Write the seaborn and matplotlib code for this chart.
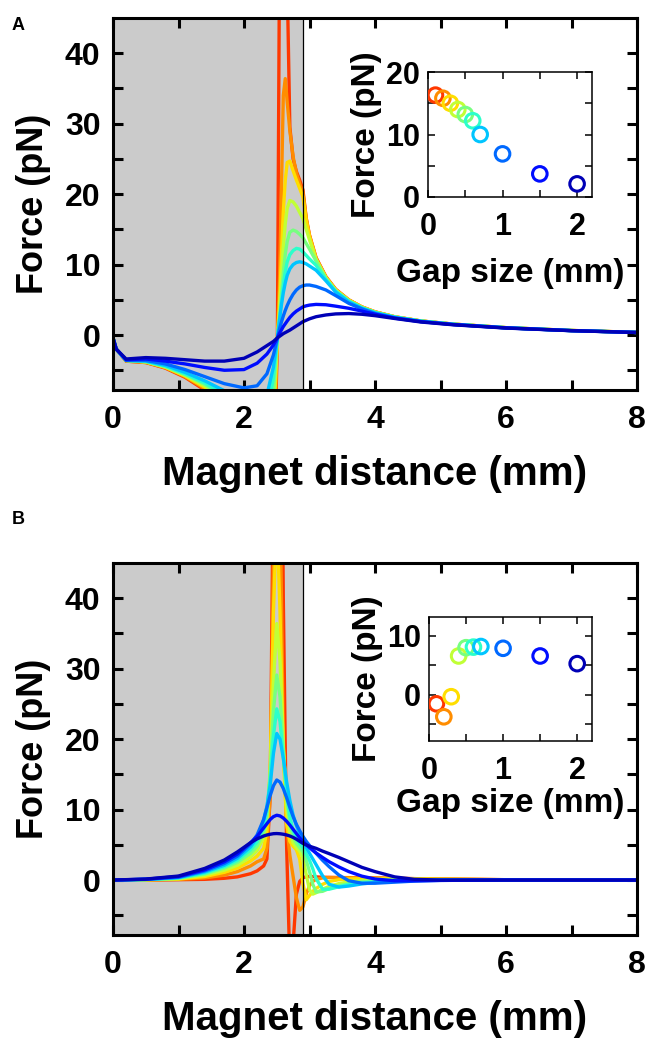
import numpy as np
import pandas as pd
import seaborn as sns
import matplotlib
matplotlib.use("Agg")
import matplotlib.pyplot as plt

# gap sizes (mm) - one curve / one inset point per gap
gaps = [0.1, 0.2, 0.3, 0.4, 0.5, 0.6, 0.7, 1.0, 1.5, 2.0]

# ---------------- panel A : force vs magnet distance ----------------
dist_a = [0.0, 0.05, 0.2, 0.5, 0.8, 1.1, 1.4, 1.7, 2.0, 2.2, 2.35, 2.45, 2.51,
          2.54, 2.57, 2.6, 2.63, 2.66, 2.7, 2.75, 2.8, 2.85, 2.9, 2.95,
          3.0, 3.1, 3.25, 3.4, 3.6, 3.8, 4.0, 4.3, 4.7, 5.2, 6.0, 7.0, 8.0]

fa_g01 = [-0.4, -2.0, -3.7, -3.9, -4.7, -6.0, -7.8, -10.5, -15.5, -20, -25, -24, -0.4,
          50, 75, 85, 75, 50, 29.5, 25, 23.2, 22, 20.6, 16.6,
          14.2, 11.0, 8.3, 6.5, 5.0, 4.0, 3.3, 2.6, 2.0, 1.55, 1.05, 0.65, 0.38]
fa_g02 = [-0.4, -2.0, -3.7, -3.9, -4.6, -5.9, -7.6, -10.0, -14.5, -18, -22, -18, -0.4,
          7, 20, 34, 36.4, 33, 29, 25.3, 23, 21.5, 20.2, 16.5,
          14.1, 10.9, 8.25, 6.45, 4.98, 3.98, 3.28, 2.59, 2.0, 1.55, 1.05, 0.65, 0.38]
fa_g03 = [-0.4, -2.0, -3.6, -3.8, -4.6, -5.8, -7.4, -9.6, -13.5, -16, -19, -13, -0.4,
          4, 11, 17.5, 22, 24.5, 24.7, 23.3, 22, 20.8, 19.6, 16.3,
          14.0, 10.8, 8.2, 6.4, 4.95, 3.96, 3.27, 2.58, 1.99, 1.54, 1.04, 0.64, 0.38]
fa_g04 = [-0.4, -2.0, -3.6, -3.8, -4.5, -5.7, -7.2, -9.2, -12.5, -14.5, -16, -10, -0.4,
          3, 8, 12.5, 15.8, 18.0, 19.1, 18.9, 18.3, 17.4, 16.5, 15.0,
          13.5, 10.7, 8.1, 6.35, 4.9, 3.93, 3.25, 2.57, 1.99, 1.54, 1.04, 0.64, 0.37]
fa_g05 = [-0.4, -2.0, -3.6, -3.8, -4.5, -5.6, -7.0, -8.8, -11.5, -13, -13.5, -8, -0.4,
          2.2, 5.5, 8.8, 11.5, 13.3, 14.6, 14.9, 14.7, 14.3, 13.8, 13.0,
          12.2, 10.5, 8.0, 6.3, 4.85, 3.9, 3.22, 2.56, 1.98, 1.53, 1.04, 0.64, 0.37]
fa_g06 = [-0.4, -2.0, -3.6, -3.7, -4.4, -5.5, -6.8, -8.4, -10.5, -11.5, -11, -6, -0.4,
          2.0, 4.6, 7.0, 9.0, 10.4, 11.4, 12.0, 12.3, 12.2, 11.8, 11.3,
          10.8, 9.9, 7.9, 6.2, 4.8, 3.86, 3.2, 2.54, 1.97, 1.53, 1.03, 0.64, 0.37]
fa_g07 = [-0.4, -2.0, -3.6, -3.7, -4.3, -5.3, -6.5, -7.9, -9.5, -10, -8.5, -4.5, -0.4,
          2.0, 4.2, 6.0, 7.4, 8.5, 9.4, 10.0, 10.3, 10.4, 10.3, 10.1,
          9.8, 9.2, 7.7, 6.1, 4.7, 3.8, 3.15, 2.52, 1.96, 1.52, 1.03, 0.63, 0.37]
fa_g10 = [-0.4, -2.0, -3.6, -3.6, -4.1, -4.9, -5.9, -6.9, -7.5, -7.2, -5.5, -2.8, -0.4,
          0.8, 1.8, 2.7, 3.5, 4.2, 5.0, 5.8, 6.4, 6.8, 7.0, 7.1,
          7.1, 6.9, 6.4, 5.6, 4.5, 3.7, 3.05, 2.45, 1.92, 1.5, 1.02, 0.63, 0.37]
fa_g15 = [-0.4, -2.0, -3.5, -3.4, -3.7, -4.1, -4.6, -5.0, -4.9, -4.0, -2.7, -1.4, -0.4,
          0.2, 0.7, 1.2, 1.6, 2.0, 2.5, 3.0, 3.4, 3.7, 4.0, 4.15,
          4.25, 4.35, 4.3, 4.1, 3.8, 3.4, 2.95, 2.4, 1.9, 1.48, 1.01, 0.62, 0.36]
fa_g20 = [-0.4, -2.0, -3.4, -3.2, -3.3, -3.5, -3.7, -3.7, -3.3, -2.4, -1.5, -0.9, -0.4,
          -0.2, 0.0, 0.2, 0.35, 0.5, 0.7, 1.0, 1.3, 1.6, 1.9, 2.1,
          2.3, 2.6, 2.85, 3.0, 3.05, 2.95, 2.75, 2.35, 1.85, 1.45, 0.99, 0.62, 0.36]

# inset A : force vs gap size
inset_force_a = [16.3, 15.8, 15.0, 14.0, 13.2, 12.2, 10.0, 6.9, 3.7, 2.1]

# ---------------- panel B ----------------
dist_b = [0.0, 0.5, 1.0, 1.4, 1.7, 1.9, 2.1, 2.2,
          2.3, 2.35, 2.4, 2.45, 2.5, 2.55, 2.6, 2.65, 2.7, 2.75, 2.8, 2.85, 2.9,
          2.95, 3.0, 3.05, 3.1, 3.2, 3.3, 3.45, 3.6, 3.8, 4.0, 4.3, 4.6, 5.0, 6.0, 8.0]

fb_g01 = [0, 0.0, 0.05, 0.1, 0.25, 0.45, 0.9, 1.3,
          2.0, 3.0, 12, 60, 120, 100, 40, 5, -12, -9, -2.0, -0.2, 0.3,
          0.5, 0.5, 0.5, 0.45, 0.4, 0.38, 0.35, 0.32, 0.3, 0.28, 0.25, 0.2, 0.15, 0.05, 0.0]
fb_g02 = [0, 0.02, 0.1, 0.3, 0.7, 1.2, 2.0, 2.6,
          3.0, 4.5, 12, 45, 80, 55, 20, 8, 3.5, 0.5, -2.5, -4.3, -3.8,
          -2.0, -0.8, -0.2, 0.1, 0.3, 0.35, 0.35, 0.35, 0.3, 0.3, 0.25, 0.2, 0.15, 0.05, 0.0]
fb_g03 = [0, 0.03, 0.15, 0.5, 1.1, 1.7, 2.7, 3.4,
          4.5, 7.0, 16, 38, 52, 38, 18, 8, 5.5, 4.8, 4.3, 3.0, -0.5,
          -2.8, -2.2, -1.6, -1.2, -0.6, -0.2, 0.05, 0.15, 0.2, 0.2, 0.2, 0.15, 0.1, 0.05, 0.0]
fb_g04 = [0, 0.05, 0.2, 0.7, 1.4, 2.1, 3.3, 4.2,
          6.0, 8.5, 15.0, 28.0, 36.4, 31.0, 19.0, 10.5, 6.8, 5.3, 4.6, 4.1, 3.2,
          0.8, -1.4, -2.0, -1.8, -1.3, -0.9, -0.5, -0.25, -0.05, 0.05, 0.1, 0.1, 0.08, 0.04, 0.0]
fb_g05 = [0, 0.06, 0.25, 0.85, 1.7, 2.5, 3.8, 4.8,
          6.8, 9.2, 15.0, 24.0, 29.1, 26.0, 18.5, 12.0, 8.0, 6.2, 5.2, 4.6, 4.0,
          2.8, 1.2, -0.6, -1.7, -1.6, -1.2, -0.8, -0.5, -0.25, -0.1, 0.0, 0.05, 0.05, 0.03, 0.0]
fb_g06 = [0, 0.08, 0.3, 1.0, 1.9, 2.8, 4.3, 5.4,
          7.5, 10.0, 14.5, 20.5, 24.3, 22.5, 17.5, 12.5, 9.0, 7.0, 5.9, 5.2, 4.6,
          3.7, 2.8, 1.6, 0.2, -1.3, -1.3, -0.95, -0.65, -0.4, -0.25, -0.1, 0.0, 0.05, 0.02, 0.0]
fb_g07 = [0, 0.09, 0.35, 1.15, 2.1, 3.1, 4.7, 6.0,
          8.5, 10.5, 13.5, 18.0, 20.8, 20.0, 17.3, 14.0, 11.3, 9.2, 7.7, 6.6, 5.7,
          4.6, 3.8, 3.0, 2.2, 0.6, -0.6, -1.0, -0.85, -0.55, -0.35, -0.15, -0.05, 0.0, 0.0, 0.0]
fb_g10 = [0, 0.1, 0.4, 1.3, 2.35, 3.4, 5.1, 6.4,
          8.6, 10.3, 12.0, 13.4, 14.2, 13.9, 13.0, 11.7, 10.3, 9.0, 7.9, 7.0, 6.2,
          5.5, 4.9, 4.3, 3.8, 2.8, 1.9, 0.7, -0.1, -0.45, -0.45, -0.3, -0.15, -0.05, 0.0, 0.0]
fb_g15 = [0, 0.12, 0.5, 1.45, 2.6, 3.7, 5.3, 6.2,
          7.4, 8.0, 8.6, 9.0, 9.2, 9.1, 8.8, 8.35, 7.8, 7.2, 6.6, 6.0, 5.5,
          5.0, 4.6, 4.2, 3.85, 3.2, 2.6, 1.85, 1.2, 0.55, 0.15, -0.1, -0.1, -0.05, 0.0, 0.0]
fb_g20 = [0, 0.14, 0.57, 1.65, 2.85, 4.0, 5.3, 5.85,
          6.25, 6.4, 6.5, 6.58, 6.6, 6.57, 6.5, 6.4, 6.25, 6.05, 5.8, 5.5, 5.2,
          5.0, 4.8, 4.65, 4.5, 4.1, 3.75, 3.2, 2.6, 1.8, 1.2, 0.45, 0.1, 0.0, 0.0, 0.0]

# inset B
inset_force_b = [-1.5, -3.7, -0.3, 6.6, 8.0, 8.1, 8.2, 7.9, 6.6, 5.3]


def long_table(dist, curves):
    rows = []
    for g, ys in zip(gaps, curves):
        rows.append(pd.DataFrame({"dist": dist, "force": ys, "gap": g}))
    return pd.concat(rows, ignore_index=True)


df_a = long_table(dist_a, [fa_g01, fa_g02, fa_g03, fa_g04, fa_g05,
                           fa_g06, fa_g07, fa_g10, fa_g15, fa_g20])
df_b = long_table(dist_b, [fb_g01, fb_g02, fb_g03, fb_g04, fb_g05,
                           fb_g06, fb_g07, fb_g10, fb_g15, fb_g20])

sns.set_style("ticks")
plt.rcParams["font.family"] = ["Liberation Sans", "DejaVu Sans"]
plt.rcParams["font.weight"] = "bold"
plt.rcParams["axes.labelweight"] = "bold"
plt.rcParams["text.color"] = "black"
plt.rcParams["axes.labelcolor"] = "black"

colors = plt.cm.jet(np.linspace(0.85, 0.05, len(gaps)))
pal = {g: c for g, c in zip(gaps, colors)}

fig = plt.figure(figsize=(6.48, 10.39), dpi=100)
W, H = 648, 1039


def box(x0, y0, x1, y1):
    return [x0 / W, 1 - y1 / H, (x1 - x0) / W, (y1 - y0) / H]


def style_axes(ax, lw, ticklen, pad, size):
    for s in ax.spines.values():
        s.set_linewidth(lw)
        s.set_color("black")
    ax.tick_params(direction="in", top=True, right=True, length=ticklen,
                   width=lw, labelsize=size, pad=pad, colors="black")


def main_panel(rect, df, inset_rect, inset_y, inset_ylim, inset_yticks,
               inset_ylabels, inset_xlabelpad, letter, letter_y):
    ax = fig.add_axes(box(*rect))
    ax.axvspan(0, 2.9, color="#cbcbcb", zorder=0, lw=0)
    sns.lineplot(data=df, x="dist", y="force", hue="gap", palette=pal,
                 hue_order=gaps, lw=2.4, legend=False, errorbar=None,
                 sort=False, ax=ax, zorder=2)
    ax.axvline(2.9, color="black", lw=0.9, zorder=3)
    ax.set_xlim(0, 8)
    ax.set_ylim(-7.8, 45)
    ax.set_xticks(range(0, 9))
    ax.set_xticklabels(["0", "", "2", "", "4", "", "6", "", "8"])
    ax.set_yticks(range(-5, 45, 5))
    ax.set_yticklabels(["", "0", "", "10", "", "20", "", "30", "", "40"])
    style_axes(ax, 2.2, 7, 9, 23)
    ax.tick_params(axis="x", pad=11)
    ax.set_xlabel("Magnet distance (mm)", fontsize=29, labelpad=14)
    ax.set_ylabel("Force (pN)", fontsize=26, labelpad=10)
    fig.text(12 / W, 1 - letter_y / H, letter, fontsize=13, fontweight="bold",
             va="center")

    ins = fig.add_axes(box(*inset_rect))
    ins.set_facecolor("white")
    ins.scatter(gaps, inset_y, s=110, facecolors="none", edgecolors=colors,
                linewidths=2.2, zorder=3)
    ins.set_xlim(0, 2.2)
    ins.set_ylim(*inset_ylim)
    ins.set_xticks([0, 0.5, 1, 1.5, 2])
    ins.set_xticklabels(["0", "", "1", "", "2"])
    ins.set_yticks(inset_yticks)
    ins.set_yticklabels(inset_ylabels)
    style_axes(ins, 1.1, 5, 6, 22)
    ins.tick_params(axis="x", pad=11)
    ins.set_xlabel("Gap size (mm)", fontsize=24, labelpad=inset_xlabelpad)
    ins.set_ylabel("Force (pN)", fontsize=24, labelpad=3)
    return ax, ins


main_panel((113, 18, 637, 390), df_a, (428, 72, 592, 197), inset_force_a,
           (0, 20), [0, 5, 10, 15, 20], ["0", "", "10", "", "20"], 11, "A", 25)
main_panel((113, 563, 637, 935), df_b, (429, 617, 592, 741), inset_force_b,
           (-7.8, 13.2), [-5, 0, 5, 10], ["", "0", "", "10"], 1, "B", 520)

fig.savefig("out.png", dpi=100)
